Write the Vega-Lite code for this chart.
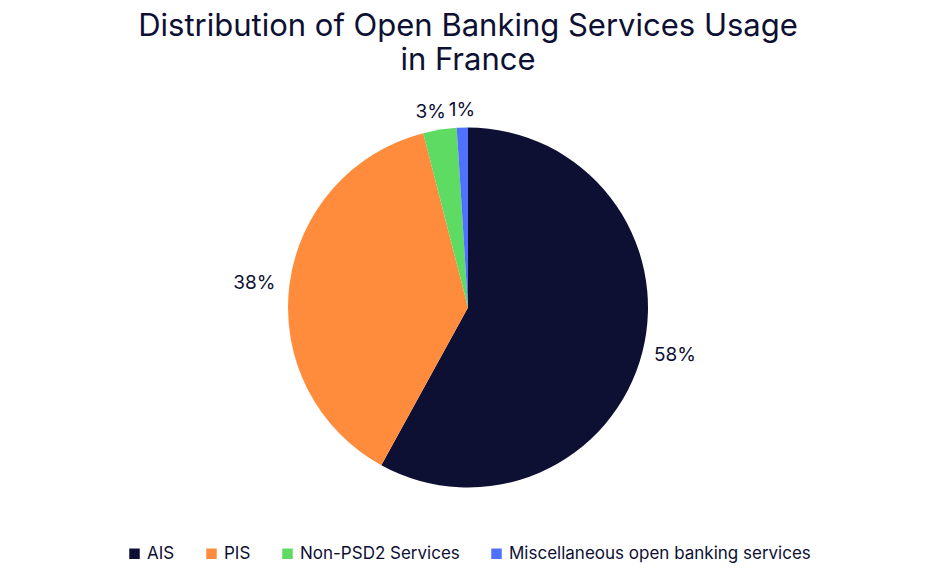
{
  "$schema": "https://vega.github.io/schema/vega-lite/v6.json",
  "width": 936,
  "height": 572,
  "autosize": {"type": "fit", "contains": "padding"},
  "padding": {"top": 22, "bottom": 10, "left": 0, "right": 0},
  "background": "white",
  "title": {
    "text": ["Distribution of Open Banking Services Usage", "in France"],
    "fontSize": 31,
    "font": "Inter",
    "fontWeight": 400,
    "color": "#0d1033",
    "lineHeight": 34,
    "anchor": "middle",
    "offset": 28,
    "dy": 4
  },
  "data": {
    "values": [
      {"service": "AIS", "share": 58, "label": "58%", "order": 1},
      {"service": "PIS", "share": 38, "label": "38%", "order": 2},
      {"service": "Non-PSD2 Services", "share": 3, "label": "3%", "order": 3},
      {"service": "Miscellaneous open banking services", "share": 1, "label": "1%", "order": 4}
    ]
  },
  "encoding": {
    "theta": {"field": "share", "type": "quantitative", "stack": true},
    "order": {"field": "order", "type": "quantitative"}
  },
  "layer": [
    {
      "mark": {"type": "arc", "radius": 180},
      "encoding": {
        "color": {
          "field": "service",
          "type": "nominal",
          "sort": ["AIS", "PIS", "Non-PSD2 Services", "Miscellaneous open banking services"],
          "scale": {
            "domain": ["AIS", "PIS", "Non-PSD2 Services", "Miscellaneous open banking services"],
            "range": ["#0d1033", "#ff8c3c", "#5edb63", "#5070ff"]
          },
          "legend": {
            "orient": "bottom",
            "direction": "horizontal",
            "title": null,
            "symbolType": "square",
            "symbolSize": 110,
            "labelFontSize": 17,
            "labelFont": "Inter",
            "labelColor": "#0d1033",
            "labelLimit": 0,
            "columnPadding": 28,
            "labelOffset": 4,
            "offset": 42
          }
        }
      }
    },
    {
      "mark": {"type": "text", "radius": 192, "align": "left", "baseline": "middle", "fontSize": 19, "font": "Inter", "color": "#0d1033"},
      "encoding": {
        "text": {"condition": {"test": "datum.service === 'AIS'", "field": "label"}, "value": ""}
      }
    },
    {
      "mark": {"type": "text", "radius": 194, "align": "right", "baseline": "middle", "fontSize": 19, "font": "Inter", "color": "#0d1033"},
      "encoding": {
        "text": {"condition": {"test": "datum.service === 'PIS'", "field": "label"}, "value": ""}
      }
    },
    {
      "mark": {"type": "text", "radius": 192, "align": "right", "baseline": "alphabetic", "dx": 8, "fontSize": 19, "font": "Inter", "color": "#0d1033"},
      "encoding": {
        "text": {"condition": {"test": "datum.service === 'Non-PSD2 Services'", "field": "label"}, "value": ""}
      }
    },
    {
      "mark": {"type": "text", "radius": 192, "align": "center", "baseline": "alphabetic", "fontSize": 19, "font": "Inter", "color": "#0d1033"},
      "encoding": {
        "text": {"condition": {"test": "datum.service === 'Miscellaneous open banking services'", "field": "label"}, "value": ""}
      }
    }
  ],
  "config": {
    "view": {"stroke": null},
    "legend": {"layout": {"bottom": {"anchor": "middle"}}}
  }
}
